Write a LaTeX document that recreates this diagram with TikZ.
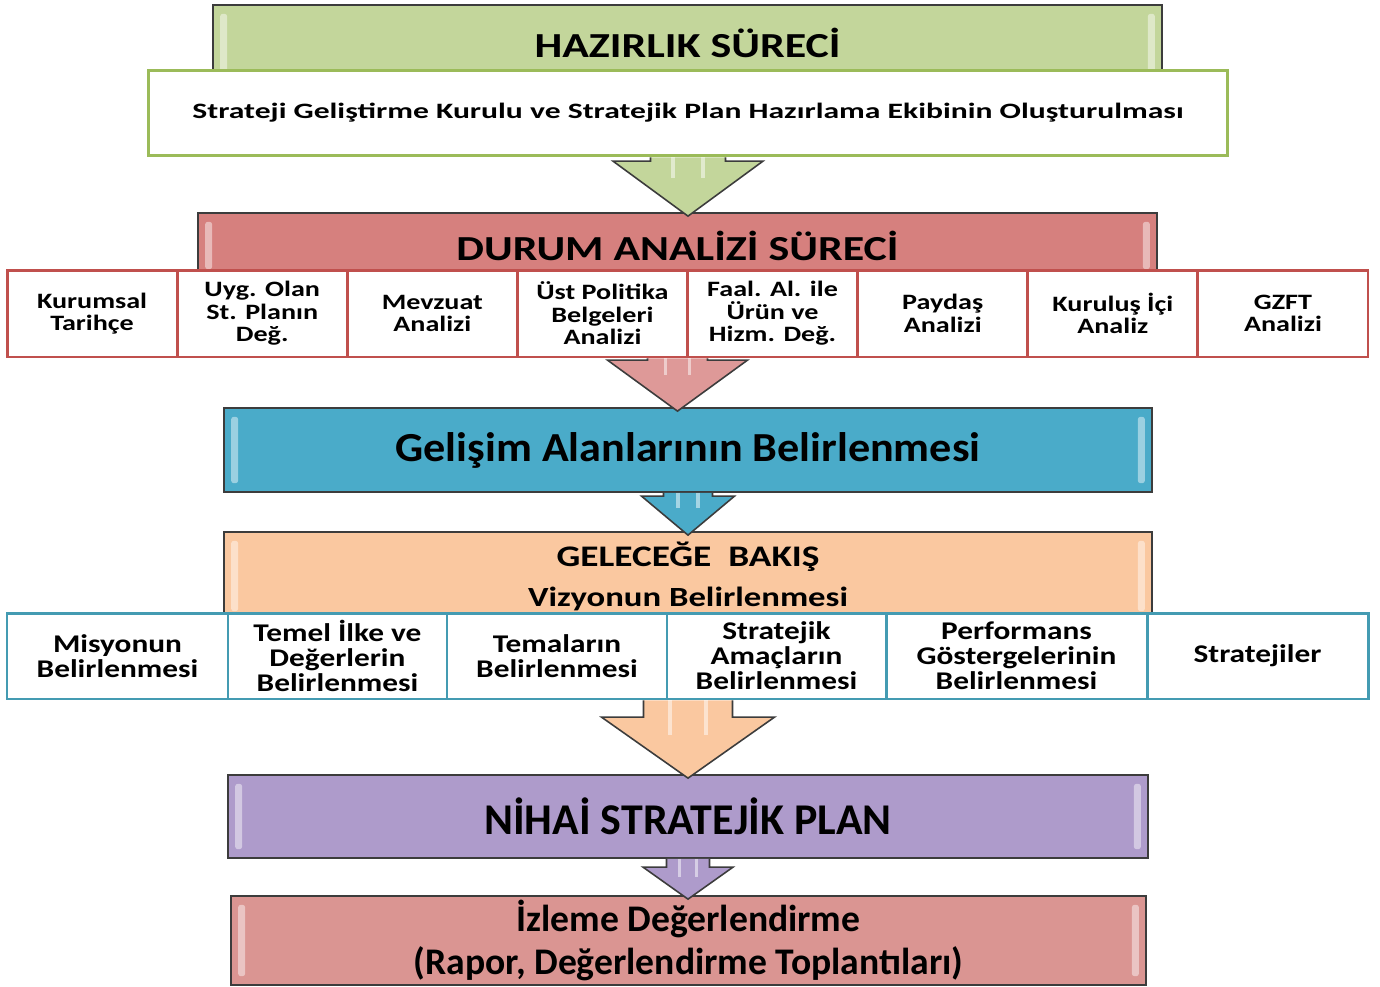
\documentclass[tikz,border=0pt]{standalone}
\usepackage{fontspec}
\setmainfont{Carlito}
\newfontfamily\widefont[FakeStretch=1.25]{Carlito}
\newfontfamily\cellfont[FakeStretch=1.28]{Carlito}
\newfontfamily\longfont[FakeStretch=1.44]{Carlito}
\newfontfamily\midfont[FakeStretch=1.07]{Carlito}
\newfontfamily\goalfont[FakeStretch=1.23]{Carlito}
\usetikzlibrary{calc}

\definecolor{prepgreen}{HTML}{C3D69B}
\definecolor{kurulgreen}{HTML}{9BBB59}
\definecolor{durumred}{HTML}{D6807E}
\definecolor{rowred}{HTML}{C0504D}
\definecolor{gelisimblue}{HTML}{4AABC9}
\definecolor{rowblue}{HTML}{4BACC6}
\definecolor{gelecekorange}{HTML}{FAC8A0}
\definecolor{nihaipurple}{HTML}{AE9BCB}
\definecolor{izlemered}{HTML}{DA9592}
\definecolor{edgegray}{HTML}{3C3C3C}

% block arrow: centre node, source node, target node, shaft half, head half, head length, fill
\newcommand{\blockarrow}[7]{%
  \coordinate (ba-top) at (#1.center |- #2.south);
  \coordinate (ba-tip) at ($(#1.center |- #3.north)+(0,4)$);
  \draw[arrowline, fill=#7] ($(ba-top)+(-#4,0)$) -- ($(ba-tip)+(-#4,-#6)$) -- ($(ba-tip)+(-#5,-#6)$)
    -- (ba-tip) -- ($(ba-tip)+(#5,-#6)$) -- ($(ba-tip)+(#4,-#6)$) -- ($(ba-top)+(#4,0)$);
  \draw[shine] ($(ba-top)+(-#4*0.4,0)$) -- ($(ba-tip)+(-#4*0.4,-#6*0.7)$);
  \draw[shine] ($(ba-top)+(#4*0.4,0)$) -- ($(ba-tip)+(#4*0.4,-#6*0.7)$);
}

\begin{document}
\begin{tikzpicture}[
x=0.02cm, y=-0.02cm,
banner/.style={draw=edgegray, line width=1pt, inner sep=0pt, align=center,
  path picture={
    \fill[white, opacity=0.45, rounded corners=1.5pt] ([xshift=4pt,yshift=-5pt]path picture bounding box.north west) rectangle ([xshift=8pt,yshift=5pt]path picture bounding box.south west);
    \fill[white, opacity=0.45, rounded corners=1.5pt] ([xshift=-4pt,yshift=-5pt]path picture bounding box.north east) rectangle ([xshift=-8pt,yshift=5pt]path picture bounding box.south east);}},
redcell/.style={draw=rowred, line width=1.7pt, fill=white, inner sep=0pt, align=center,
  minimum width=3.4025cm, minimum height=1.74cm,
  font=\cellfont\bfseries\fontsize{12.5}{12.8}\selectfont},
bluecell/.style={draw=rowblue!90!black, line width=1.7pt, fill=white, inner sep=0pt, align=center,
  minimum height=1.72cm, font=\goalfont\bfseries\fontsize{14.5}{14.2}\selectfont},
arrowline/.style={draw=edgegray, line width=0.9pt, line join=miter},
shine/.style={white, opacity=0.5, line width=2pt}
]
\useasboundingbox (0,0) rectangle (1380,987);

% banners
\node[banner, fill=prepgreen, minimum width=18.98cm, minimum height=1.5cm,
  font=\widefont\bfseries\fontsize{20}{24}\selectfont] (prep) at (687.5,42.5) {HAZIRLIK SÜRECİ};
\node[draw=kurulgreen, line width=1.7pt, fill=white, inner sep=0pt, minimum width=21.6cm, minimum height=1.72cm,
  font=\longfont\bfseries\fontsize{12.5}{14}\selectfont] (kurul) at (688,113) {Strateji Geliştirme Kurulu ve Stratejik Plan Hazırlama Ekibinin Oluşturulması};

\node[banner, fill=durumred, minimum width=19.18cm, minimum height=1.3cm,
  font=\widefont\bfseries\fontsize{20}{24}\selectfont] (durum) at (677.5,245.5) {DURUM ANALİZİ SÜRECİ};
\foreach \txt [count=\i] in {{Kurumsal\\Tarihçe}, {Uyg. Olan\\St. Planın\\Değ.},
    {Mevzuat\\Analizi}, {Üst Politika\\Belgeleri\\Analizi},
    {Faal. Al. ile\\Ürün ve\\Hizm. Değ.}, {Paydaş\\Analizi},
    {Kuruluş İçi\\Analiz}, {GZFT\\Analizi}}
  \node[redcell] (da\i) at ({7+170.125*(\i-0.5)},313.5) {\txt};

\node[banner, fill=gelisimblue, minimum width=18.56cm, minimum height=1.68cm,
  font=\midfont\bfseries\fontsize{23.5}{28}\selectfont] (gelisim) at (688,450) {Gelişim Alanlarının Belirlenmesi};

\node[banner, fill=gelecekorange, minimum width=18.56cm, minimum height=1.76cm,
  font=\widefont\bfseries\fontsize{17}{22.8}\selectfont] (gelecek) at (688,576)
  {GELECEĞE~~BAKIŞ\\{\fontsize{15.8}{22.8}\selectfont Vizyonun Belirlenmesi}};
\foreach \l/\r/\txt [count=\i] in {7/228/{Misyonun\\Belirlenmesi}, 228/447/{Temel İlke ve\\Değerlerin\\Belirlenmesi},
    447/667/{Temaların\\Belirlenmesi}, 667/886/{Stratejik\\Amaçların\\Belirlenmesi},
    886/1147/{Performans\\Göstergelerinin\\Belirlenmesi}, 1147/1368/{Stratejiler}}
  \node[bluecell, minimum width={(\r-\l)*0.02cm}] (ge\i) at ({(\l+\r)/2},656) {\txt};

\node[banner, fill=nihaipurple, minimum width=18.4cm, minimum height=1.66cm,
  font=\bfseries\fontsize{25}{28}\selectfont] (nihai) at (688,816.5) {NİHAİ STRATEJİK PLAN};
\node[banner, fill=izlemered, minimum width=18.3cm, minimum height=1.78cm,
  font=\bfseries\fontsize{21.4}{24}\selectfont] (izleme) at (688.5,940.5) {İzleme Değerlendirme\\(Rapor, Değerlendirme Toplantıları)};

% arrows
\blockarrow{kurul}{kurul}{durum}{37.5}{75}{55}{prepgreen}
\blockarrow{durum}{da1}{gelisim}{30}{70}{51}{durumred!80!white}
\blockarrow{gelisim}{gelisim}{gelecek}{24.5}{46.5}{39}{gelisimblue}
\blockarrow{gelecek}{ge1}{nihai}{44.5}{86.5}{61}{gelecekorange}
\blockarrow{nihai}{nihai}{izleme}{21.5}{45}{32}{nihaipurple}
\end{tikzpicture}
\end{document}
